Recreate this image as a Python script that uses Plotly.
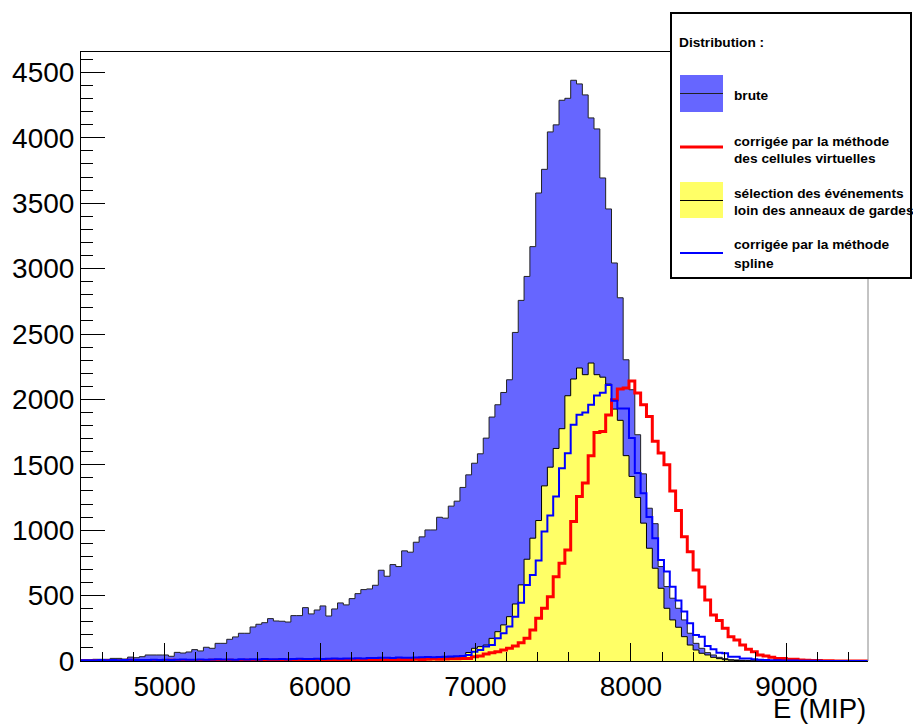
import plotly.graph_objects as go

# histogram binning (ROOT TH1, 37.5 MIP per bin)
X_MIN = 4462.5
BIN_W = 37.5

brute = [8, 8, 13, 13, 13, 20, 20, 15, 30, 25,
         33, 46, 46, 46, 46, 36, 66, 61, 69, 87,
         77, 105, 97, 135, 135, 166, 184, 212, 212, 260,
         281, 293, 324, 306, 304, 298, 347, 347, 408, 360,
         390, 421, 344, 398, 444, 429, 477, 515, 546, 551,
         579, 694, 648, 737, 722, 842, 832, 908, 949, 1002,
         1002, 1099, 1092, 1184, 1222, 1327, 1423, 1512, 1584, 1704,
         1865, 1959, 2053, 2150, 2512, 2757, 2940, 3168, 3578, 3759,
         4045, 4099, 4287, 4302, 4440, 4412, 4328, 4152, 4068, 3693,
         3456, 3043, 2777, 2303, 2074, 1730, 1431, 1168, 1050, 722,
         569, 480, 403, 314, 212, 135, 97, 64, 46, 28,
         18, 10, 8, 5, 4, 3, 2, 2, 1, 1,
         0, 0, 0, 0, 0, 0, 0, 0, 0, 0, 0, 0, 0, 0, 0]

selection = [2, 1, 3, 2, 3, 2, 3, 4, 2, 3,
             3, 5, 3, 4, 6, 4, 5, 4, 6, 5,
             6, 5, 7, 5, 6, 7, 8, 6, 7, 8,
             7, 9, 8, 6, 9, 10, 8, 9, 11, 8,
             10, 12, 9, 11, 13, 10, 12, 11, 13, 12,
             12, 14, 13, 15, 14, 17, 16, 18, 20, 19,
             22, 24, 23, 27, 30, 35, 65, 97, 110, 122,
             173, 224, 276, 339, 436, 582, 778, 939, 1074, 1339,
             1482, 1625, 1776, 2028, 2156, 2240, 2189, 2278, 2189, 2170,
             2117, 1926, 1840, 1570, 1411, 1250, 1054, 862, 709, 556,
             403, 314, 258, 186, 122, 84, 59, 46, 28, 18,
             10, 6, 4, 3, 2, 1, 1, 0, 0, 0,
             0, 0, 0, 0, 0, 0, 0, 0, 0, 0, 0, 0, 0, 0, 0]

cellules = [2, 0, 3, 1, 4, 2, 0, 3, 5, 1,
            2, 4, 1, 3, 0, 5, 2, 3, 1, 4,
            3, 2, 5, 1, 4, 6, 2, 3, 5, 4,
            2, 6, 3, 5, 4, 7, 3, 6, 5, 4,
            7, 5, 8, 6, 4, 7, 9, 6, 8, 7,
            10, 8, 9, 11, 10, 12, 11, 14, 12, 13,
            15, 14, 16, 17, 18, 20, 20, 33, 38, 54,
            64, 71, 84, 97, 115, 140, 173, 237, 327, 403,
            492, 645, 747, 849, 1066, 1258, 1360, 1569, 1747, 1755,
            1880, 1997, 2079, 2087, 2140, 2048, 1959, 1870, 1680, 1590,
            1500, 1300, 1150, 950, 835, 695, 565, 467, 352, 309,
            250, 186, 161, 122, 89, 71, 46, 38, 28, 20,
            20, 13, 13, 8, 5, 4, 3, 2, 1, 0, 0, 0, 0, 0, 0]

spline = [5, 6, 5, 7, 6, 8, 6, 7, 9, 7,
          8, 7, 9, 8, 10, 8, 9, 11, 9, 10,
          12, 10, 11, 13, 11, 12, 10, 13, 12, 14,
          12, 15, 13, 14, 16, 14, 15, 17, 15, 16,
          18, 16, 17, 19, 18, 20, 19, 21, 20, 23,
          22, 25, 24, 23, 26, 25, 24, 27, 28, 30,
          29, 31, 33, 35, 36, 38, 45, 71, 84, 110,
          122, 173, 212, 263, 339, 446, 582, 658, 768, 990,
          1112, 1258, 1474, 1589, 1806, 1883, 1900, 1960, 2030, 2050,
          2110, 1990, 1930, 1930, 1704, 1437, 1283, 1100, 939, 773,
          684, 568, 462, 378, 288, 199, 186, 115, 89, 64,
          59, 33, 33, 20, 20, 13, 10, 8, 6, 5,
          4, 3, 3, 2, 2, 1, 1, 0, 0, 0, 0, 0, 0, 0, 0]

edges = [X_MIN + BIN_W * i for i in range(len(brute) + 1)]
X_MAX = edges[-1]
Y_MAX = 4656

BLUE_FILL = 'rgb(102,102,255)'
YELLOW = 'rgb(255,255,102)'
FONT = 'Liberation Sans, Arial, Helvetica, sans-serif'

# plot frame in pixels (913x725 canvas)
L, R, T, B = 81, 868, 52, 661


def steps(counts):
    return edges, list(counts) + [counts[-1]]


def px(x):
    return (x - L) / (R - L)


def py(y):
    return (B - y) / (B - T)


fig = go.Figure()
x, y = steps(brute)
fig.add_trace(go.Scatter(x=x, y=y, mode='lines', line_shape='hv', fill='tozeroy',
                         fillcolor=BLUE_FILL, line=dict(color='#222', width=1), name='brute'))
x, y = steps(selection)
fig.add_trace(go.Scatter(x=x, y=y, mode='lines', line_shape='hv', fill='tozeroy',
                         fillcolor=YELLOW, line=dict(color='black', width=1), name='selection'))
x, y = steps(cellules)
fig.add_trace(go.Scatter(x=x, y=y, mode='lines', line_shape='hv',
                         line=dict(color='red', width=3), name='cellules'))
x, y = steps(spline)
fig.add_trace(go.Scatter(x=x, y=y, mode='lines', line_shape='hv',
                         line=dict(color='blue', width=2), name='spline'))

fig.update_xaxes(range=[X_MIN, X_MAX], tickvals=[5000, 6000, 7000, 8000, 9000],
                 ticks='inside', ticklen=18, tickcolor='black', tickwidth=1,
                 minor=dict(dtick=200, ticks='inside', ticklen=9, tickcolor='black'),
                 showline=True, linecolor='black', linewidth=1, mirror=True,
                 showgrid=False, zeroline=False,
                 tickfont=dict(family=FONT, size=28, color='black'))
fig.update_yaxes(range=[0, Y_MAX], dtick=500, tick0=0,
                 ticks='inside', ticklen=24, tickcolor='black', tickwidth=1,
                 minor=dict(dtick=100, ticks='inside', ticklen=12, tickcolor='black'),
                 showline=True, linecolor='black', linewidth=1,
                 showgrid=False, zeroline=False,
                 tickfont=dict(family=FONT, size=28, color='black'))

shapes = [
    # right side of the frame (grey in ROOT)
    dict(type='line', xref='paper', yref='paper', x0=1, x1=1, y0=0, y1=1,
         line=dict(color='#888', width=1), layer='above'),
    # legend box
    dict(type='rect', xref='paper', yref='paper', x0=px(671), x1=px(911), y0=py(13), y1=py(278),
         fillcolor='white', line=dict(color='black', width=2), layer='above'),
    dict(type='rect', xref='paper', yref='paper', x0=px(680), x1=px(723), y0=py(75), y1=py(112),
         fillcolor=BLUE_FILL, line=dict(width=0), layer='above'),
    dict(type='line', xref='paper', yref='paper', x0=px(680), x1=px(723), y0=py(93.5), y1=py(93.5),
         line=dict(color='#222', width=1), layer='above'),
    dict(type='line', xref='paper', yref='paper', x0=px(680), x1=px(723), y0=py(147), y1=py(147),
         line=dict(color='red', width=3), layer='above'),
    dict(type='rect', xref='paper', yref='paper', x0=px(680), x1=px(723), y0=py(182), y1=py(218),
         fillcolor=YELLOW, line=dict(width=0), layer='above'),
    dict(type='line', xref='paper', yref='paper', x0=px(680), x1=px(723), y0=py(200.5), y1=py(200.5),
         line=dict(color='black', width=1), layer='above'),
    dict(type='line', xref='paper', yref='paper', x0=px(680), x1=px(723), y0=py(253), y1=py(253),
         line=dict(color='blue', width=2), layer='above'),
]

legend_text = [
    ('Distribution :', 677, 42),
    ('brute', 732, 95),
    ('corrigée par la méthode', 732, 141),
    ('des cellules virtuelles', 732, 158),
    ('sélection des événements', 732, 193),
    ('loin des anneaux de gardes', 732, 210),
    ('corrigée par la méthode', 732, 245),
    ('spline', 732, 263),
]
annotations = [dict(text=t, x=px(xx), y=py(yy), xref='paper', yref='paper', showarrow=False,
                    xanchor='left', yanchor='middle',
                    font=dict(family=FONT, size=13.7, color='black', weight='bold'))
               for t, xx, yy in legend_text]
annotations.append(dict(text='E (MIP)', x=1, y=py(709), xref='paper', yref='paper',
                        showarrow=False, xanchor='right', yanchor='middle',
                        font=dict(family=FONT, size=27.5, color='black')))

fig.update_layout(width=913, height=725, autosize=False,
                  margin=dict(l=L, r=913 - R, t=T, b=725 - B),
                  plot_bgcolor='white', paper_bgcolor='white',
                  showlegend=False, shapes=shapes, annotations=annotations)

# the page's default 8px body margin would shift the whole figure
fig.write_html("out.html", config={'displayModeBar': False},
               post_script="document.body.style.margin='0';")
